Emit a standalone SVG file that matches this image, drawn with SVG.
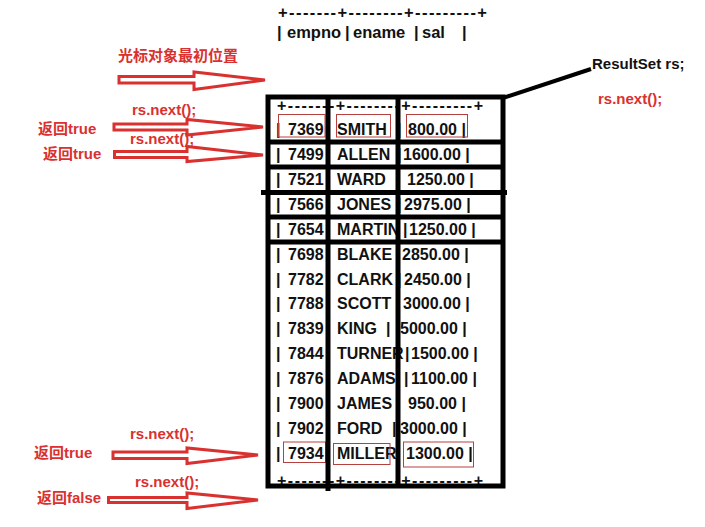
<svg xmlns="http://www.w3.org/2000/svg" width="705" height="527" viewBox="0 0 705 527">
<style>
.t{font-family:"Liberation Sans",Arial,sans-serif;font-weight:bold;font-size:16px;fill:#111}
.h{font-family:"Liberation Sans",Arial,sans-serif;font-weight:bold;font-size:16.5px;fill:#111}
.r{font-family:"Liberation Sans","Noto Sans CJK SC",sans-serif;font-weight:bold;font-size:15px;fill:#d9312f}
.k{font-family:"Liberation Sans",Arial,sans-serif;font-weight:bold;font-size:15px;fill:#111}
.ln{stroke:#000;stroke-width:5;fill:none}
.rb{fill:none;stroke:#b5413f;stroke-width:1}
.arr{fill:#fff;stroke:#d9312f;stroke-width:3;stroke-linejoin:miter}
</style>
<rect width="705" height="527" fill="#fff"/>
<g id="header">
<text class="h" x="278" y="18" textLength="209" lengthAdjust="spacing">+-------+--------+---------+</text>
<text class="h" x="277" y="38">|</text>
<text class="h" x="287" y="38">empno</text>
<text class="h" x="345" y="38">|</text>
<text class="h" x="353" y="38">ename</text>
<text class="h" x="414" y="38">|</text>
<text class="h" x="422" y="38">sal</text>
<text class="h" x="462" y="38">|</text>
</g>
<g id="table">
<g id="rows">
<text class="t" x="277" y="110.5" textLength="206" lengthAdjust="spacing">+-------+--------+---------+</text>
<g><text class="t" x="276" y="135">|</text><text class="t" x="288" y="135">7369</text><text class="t" x="337" y="135">SMITH</text><text class="t" x="397" y="135">|</text><text class="t" x="408" y="135">800.00 |</text></g>
<g><text class="t" x="276" y="160">|</text><text class="t" x="288" y="160">7499</text><text class="t" x="337" y="160">ALLEN</text><text class="t" x="397" y="160">|</text><text class="t" x="403" y="160">1600.00 |</text></g>
<g><text class="t" x="276" y="185">|</text><text class="t" x="288" y="185">7521</text><text class="t" x="337" y="185">WARD</text><text class="t" x="407" y="185">1250.00 |</text></g>
<g><text class="t" x="276" y="210">|</text><text class="t" x="288" y="210">7566</text><text class="t" x="337" y="210">JONES</text><text class="t" x="397" y="210">|</text><text class="t" x="404" y="210">2975.00 |</text></g>
<g><text class="t" x="276" y="235">|</text><text class="t" x="288" y="235">7654</text><text class="t" x="337" y="235">MARTIN</text><text class="t" x="403" y="235">|</text><text class="t" x="409" y="235">1250.00 |</text></g>
<g><text class="t" x="276" y="259.5">|</text><text class="t" x="288" y="259.5">7698</text><text class="t" x="337" y="259.5">BLAKE</text><text class="t" x="396" y="259.5">|</text><text class="t" x="402" y="259.5">2850.00 |</text></g>
<g><text class="t" x="276" y="284.5">|</text><text class="t" x="288" y="284.5">7782</text><text class="t" x="337" y="284.5">CLARK</text><text class="t" x="397" y="284.5">|</text><text class="t" x="404" y="284.5">2450.00 |</text></g>
<g><text class="t" x="276" y="309">|</text><text class="t" x="288" y="309">7788</text><text class="t" x="337" y="309">SCOTT</text><text class="t" x="396" y="309">|</text><text class="t" x="403" y="309">3000.00 |</text></g>
<g><text class="t" x="276" y="334">|</text><text class="t" x="288" y="334">7839</text><text class="t" x="337" y="334">KING</text><text class="t" x="386" y="334">|</text><text class="t" x="400" y="334">5000.00 |</text></g>
<g><text class="t" x="276" y="359">|</text><text class="t" x="288" y="359">7844</text><text class="t" x="337" y="359">TURNER</text><text class="t" x="405" y="359">|</text><text class="t" x="411" y="359">1500.00 |</text></g>
<g><text class="t" x="276" y="384">|</text><text class="t" x="288" y="384">7876</text><text class="t" x="337" y="384">ADAMS</text><text class="t" x="404" y="384">|</text><text class="t" x="411" y="384">1100.00 |</text></g>
<g><text class="t" x="276" y="409">|</text><text class="t" x="288" y="409">7900</text><text class="t" x="337" y="409">JAMES</text><text class="t" x="408" y="409">950.00 |</text></g>
<g><text class="t" x="276" y="434">|</text><text class="t" x="288" y="434">7902</text><text class="t" x="337" y="434">FORD</text><text class="t" x="392" y="434">|</text><text class="t" x="400" y="434">3000.00 |</text></g>
<g><text class="t" x="276" y="458.5">|</text><text class="t" x="288" y="458.5">7934</text><text class="t" x="337" y="458.5">MILLER</text><text class="t" x="406" y="458.5">1300.00 |</text></g>
<text class="t" x="277" y="485.5" textLength="206" lengthAdjust="spacing">+-------+--------+---------+</text>
</g>
<g id="highlights">
<rect class="rb" x="278.5" y="114.5" width="46.5" height="22.5"/>
<rect class="rb" x="336.5" y="114.5" width="54" height="22.5"/>
<rect class="rb" x="406.5" y="114.5" width="61" height="22.5"/>
<rect class="rb" x="283.5" y="442" width="42" height="20.5"/>
<rect class="rb" x="333.5" y="443.5" width="56.5" height="21"/>
<rect class="rb" x="403.5" y="442" width="70" height="25"/>
</g>
<g id="grid">
<rect class="ln" x="268" y="97" width="235" height="389"/>
<line class="ln" x1="328" y1="97" x2="328" y2="491"/>
<line class="ln" x1="398" y1="97" x2="398" y2="487"/>
<line class="ln" x1="266" y1="142" x2="503" y2="142"/>
<line class="ln" x1="266" y1="167" x2="503" y2="167"/>
<line class="ln" x1="261" y1="192.5" x2="507" y2="192.5"/>
<line class="ln" x1="266" y1="217" x2="503" y2="217"/>
<line class="ln" x1="266" y1="242" x2="503" y2="242"/>
<line stroke="#000" stroke-width="4" x1="503" y1="98" x2="591" y2="69"/>
</g>
</g>
<g id="labels">
<text class="r" x="118" y="60.5">光标对象最初位置</text>
<text class="r" x="132" y="115">rs.next();</text>
<text class="r" x="38" y="134">返回true</text>
<text class="r" x="130" y="143.5">rs.next();</text>
<text class="r" x="43" y="158.5">返回true</text>
<text class="r" x="130" y="438.5">rs.next();</text>
<text class="r" x="34" y="458">返回true</text>
<text class="r" x="135" y="487">rs.next();</text>
<text class="r" x="37" y="503">返回false</text>
<text class="k" x="592" y="68.5">ResultSet rs;</text>
<text class="r" x="598" y="103.5">rs.next();</text>
</g>
<g id="connectors">
<polygon class="arr" points="119,76.5 194,76.5 194,72 265,80 194,89.5 194,83 119,83"/>
<polygon class="arr" points="114,124 187,124 187,119.5 263,127 187,135 187,130 114,130"/>
<polygon class="arr" points="114.5,151.5 187,151.5 187,146.5 263,155 187,161.5 187,157.5 114.5,157.5"/>
<polygon class="arr" points="113,452 187,452 187,448 258,455 187,463.5 187,458.5 113,458.5"/>
<polygon class="arr" points="108.5,497.5 187,497.5 187,493 258,500 187,508.5 187,502.5 108.5,502.5"/>
</g>
</svg>
